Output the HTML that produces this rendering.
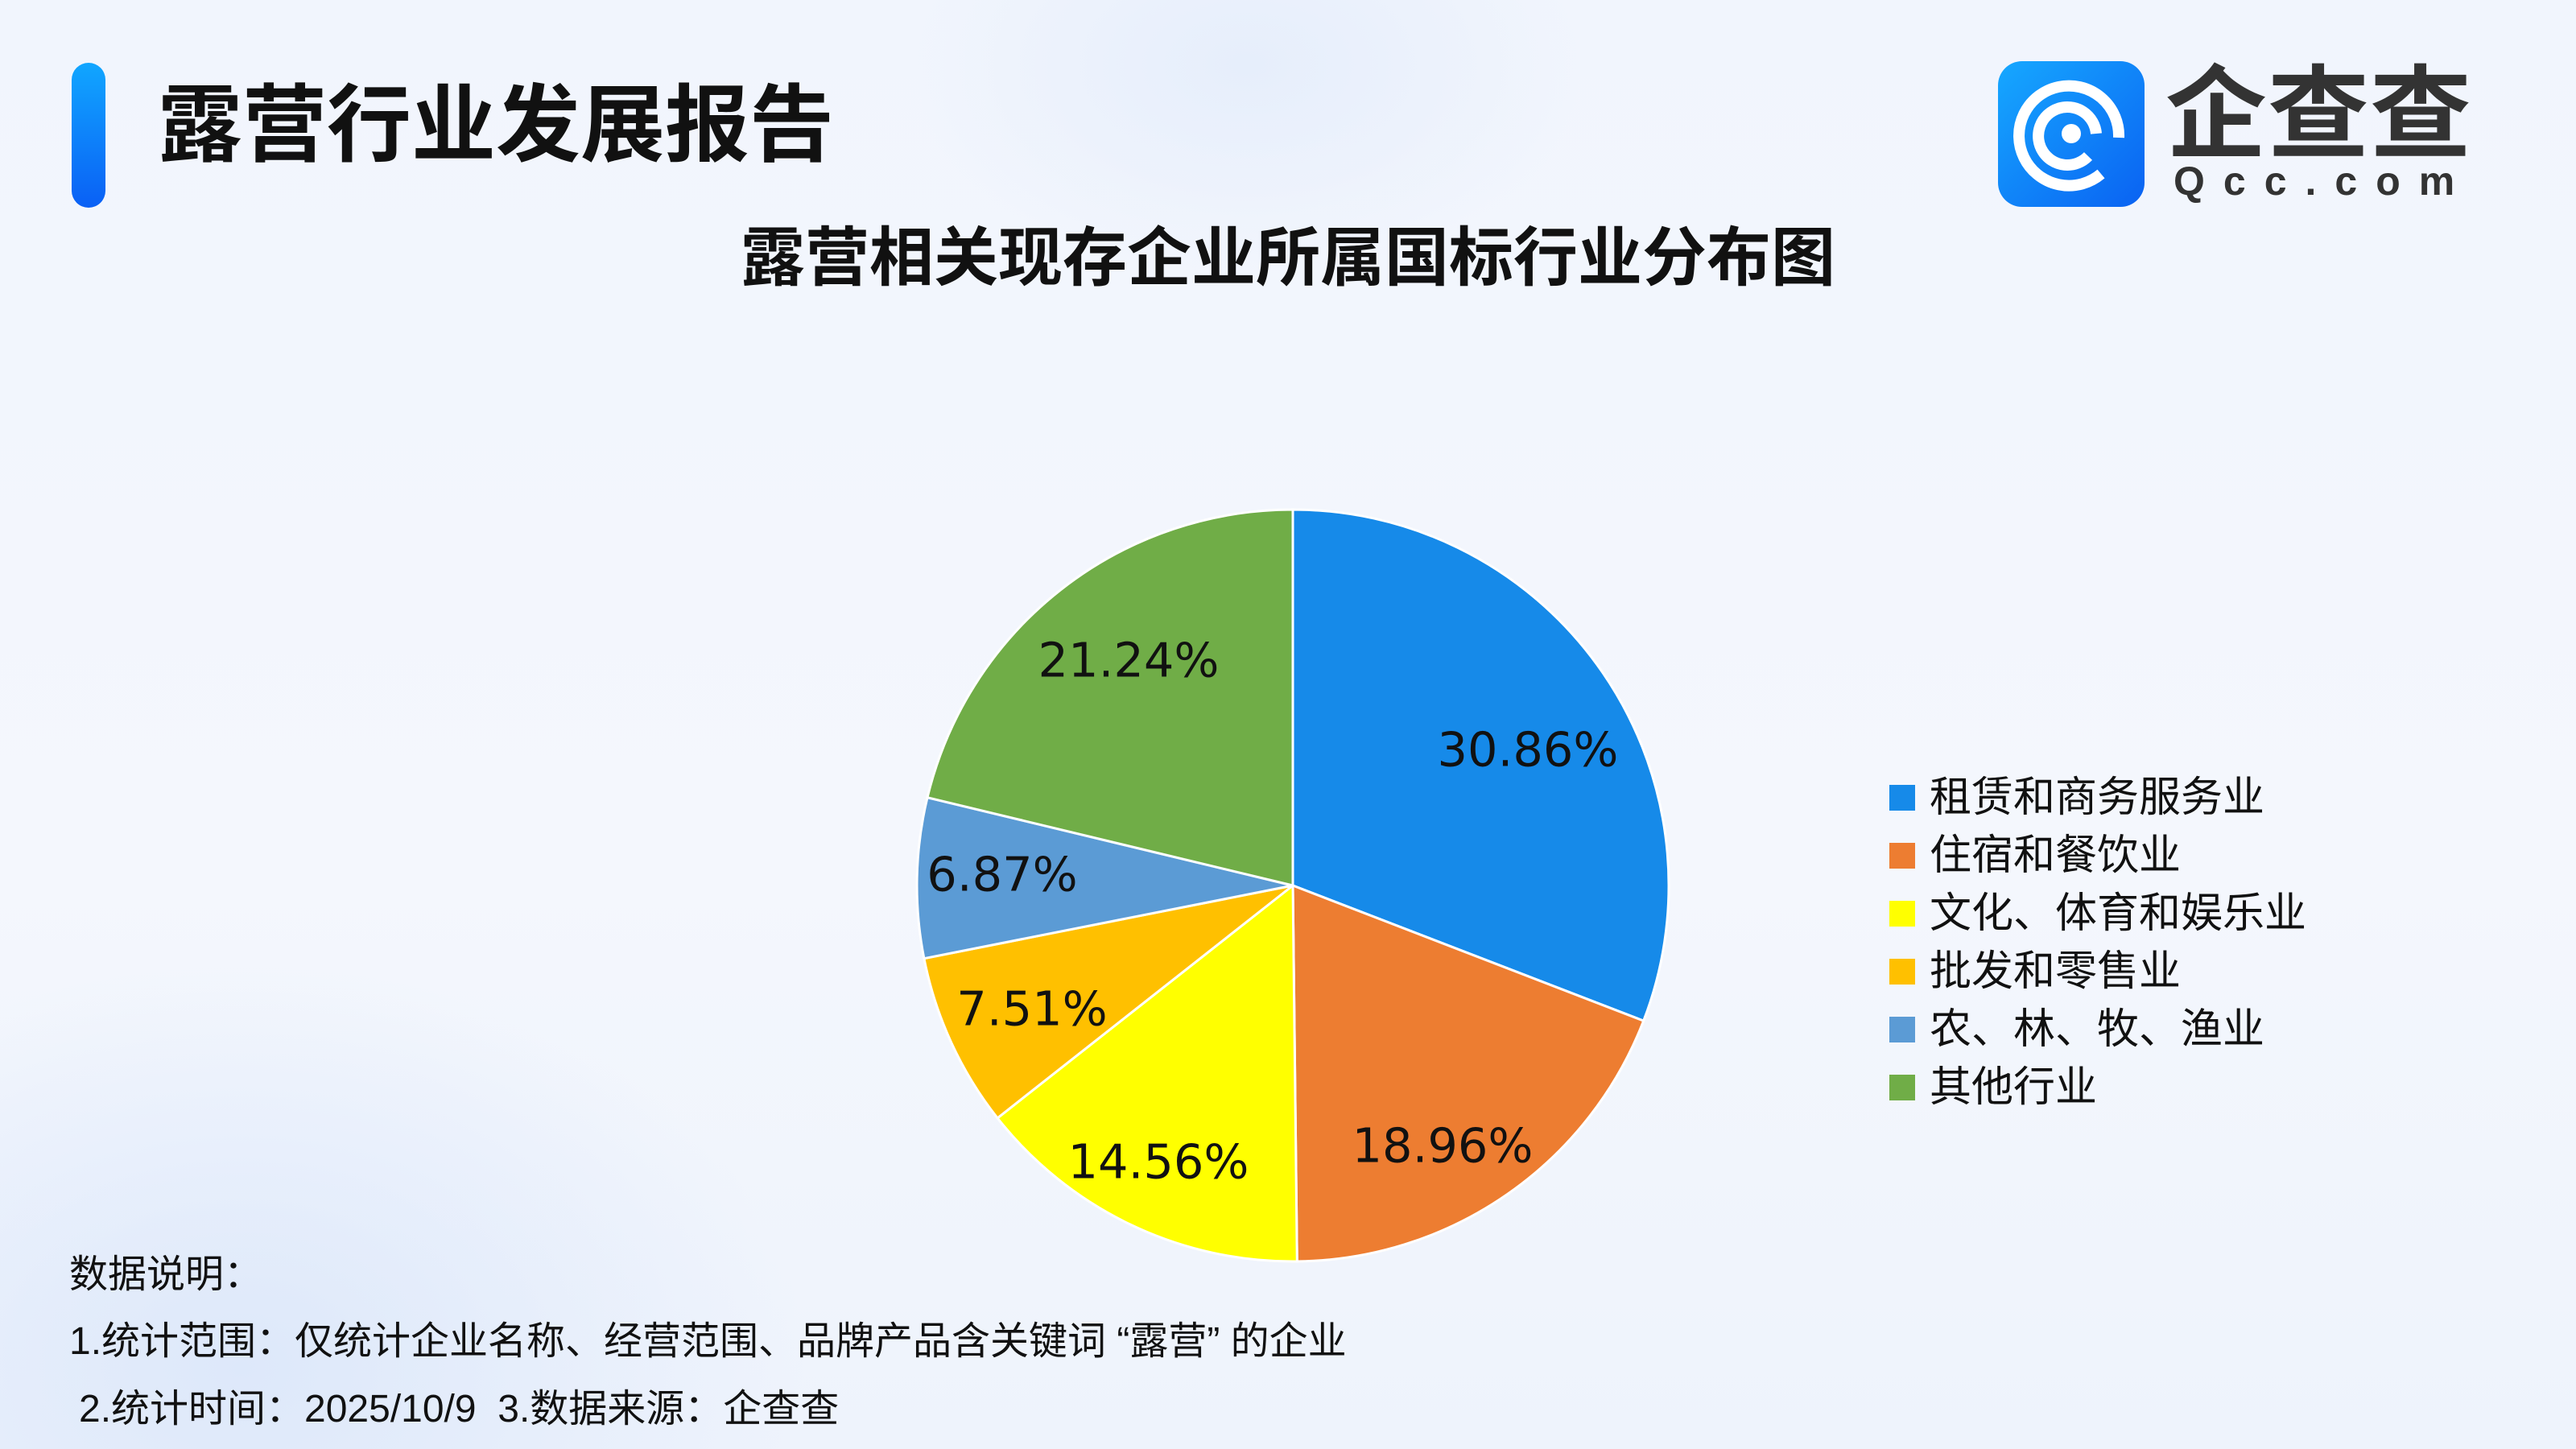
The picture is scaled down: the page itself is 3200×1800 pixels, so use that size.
<!DOCTYPE html>
<html><head><meta charset="utf-8"><style>
html,body{margin:0;padding:0}
body{width:3200px;height:1800px;overflow:hidden;position:relative;font-family:"Liberation Sans","Noto Sans CJK SC",sans-serif;
background:radial-gradient(ellipse 420px 260px at 1550px 80px,#e6eefb 0%,rgba(230,238,251,0) 100%),radial-gradient(ellipse 700px 500px at 300px 1700px,#dde8fa 0%,rgba(221,232,250,0) 100%),linear-gradient(180deg,#f1f5fd 0%,#f4f7fd 60%,#eef3fc 100%);}
.abs{position:absolute;white-space:nowrap}
</style></head><body>
<div class="abs" style="left:89px;top:78px;width:42px;height:180px;border-radius:21px;background:linear-gradient(180deg,#11a6ff,#0a60f5)"></div>
<div class="abs" style="left:196px;top:104px;font-size:105px;font-weight:bold;color:#111;line-height:1">露营行业发展报告</div>
<div class="abs" style="left:2482px;top:76px;width:182px;height:181px;border-radius:30px;background:linear-gradient(135deg,#16a8ff,#0a62f2)">
<svg width="182" height="181" viewBox="0 0 182 181"><g fill="none" stroke="#fff" stroke-width="14"><path d="M128 140 A62 62 0 1 1 150 95"/><path d="M112 118 A36 36 0 1 1 122 90"/></g><circle cx="91" cy="90" r="12" fill="#fff"/></svg></div>
<div class="abs" style="left:2690px;top:80px;font-size:126px;font-weight:bold;color:#333;line-height:1;letter-spacing:1px">企查查</div>
<div class="abs" style="left:2700px;top:200px;font-size:50px;font-weight:bold;color:#333;line-height:1;letter-spacing:23px">Qcc.com</div>
<div class="abs" style="left:0;width:3200px;text-align:center;top:281px;font-size:80px;font-weight:bold;color:#111;line-height:1">露营相关现存企业所属国标行业分布图</div>
<svg class="abs" style="left:0;top:0" width="3200" height="1800">
<g stroke="#fff" stroke-width="3" stroke-linejoin="round">
<path d="M1606 1100 L1606 633 A467 467 0 0 1 2041.7 1268.1 Z" fill="#168ae9"/>
<path d="M1606 1100 L2041.7 1268.1 A467 467 0 0 1 1611.3 1567 Z" fill="#ed7d31"/>
<path d="M1606 1100 L1611.3 1567 A467 467 0 0 1 1239.1 1388.9 Z" fill="#ffff00"/>
<path d="M1606 1100 L1239.1 1388.9 A467 467 0 0 1 1147.9 1190.7 Z" fill="#ffc000"/>
<path d="M1606 1100 L1147.9 1190.7 A467 467 0 0 1 1152 990.7 Z" fill="#5b9bd5"/>
<path d="M1606 1100 L1152 990.7 A467 467 0 0 1 1606 633 Z" fill="#70ad47"/>
</g>
<g font-family="'DejaVu Sans','Liberation Sans',sans-serif" font-size="59" fill="#111" text-anchor="middle" dominant-baseline="central">
<text x="1898" y="931">30.86%</text>
<text x="1792" y="1423">18.96%</text>
<text x="1439" y="1443">14.56%</text>
<text x="1282" y="1253">7.51%</text>
<text x="1245" y="1086">6.87%</text>
<text x="1402" y="820">21.24%</text>
</g>
<g font-family="'Liberation Sans','Noto Sans CJK SC',sans-serif" font-size="52" fill="#111" dominant-baseline="central">
<rect x="2347" y="975" width="32" height="32" fill="#168ae9"/><text x="2397" y="991">租赁和商务服务业</text>
<rect x="2347" y="1047" width="32" height="32" fill="#ed7d31"/><text x="2397" y="1063">住宿和餐饮业</text>
<rect x="2347" y="1119" width="32" height="32" fill="#ffff00"/><text x="2397" y="1135">文化、体育和娱乐业</text>
<rect x="2347" y="1191" width="32" height="32" fill="#ffc000"/><text x="2397" y="1207">批发和零售业</text>
<rect x="2347" y="1263" width="32" height="32" fill="#5b9bd5"/><text x="2397" y="1279">农、林、牧、渔业</text>
<rect x="2347" y="1335" width="32" height="32" fill="#70ad47"/><text x="2397" y="1351">其他行业</text>
</g>
</svg>
<div class="abs" style="left:86px;top:1560px;font-size:48px;color:#111;line-height:1">数据说明：</div>
<div class="abs" style="left:86px;top:1643px;font-size:48px;color:#111;line-height:1">1.统计范围：仅统计企业名称、经营范围、品牌产品含关键词 “露营” 的企业</div>
<div class="abs" style="left:98px;top:1727px;font-size:48px;color:#111;line-height:1">2.统计时间：2025/10/9&nbsp; 3.数据来源：企查查</div>
</body></html>
